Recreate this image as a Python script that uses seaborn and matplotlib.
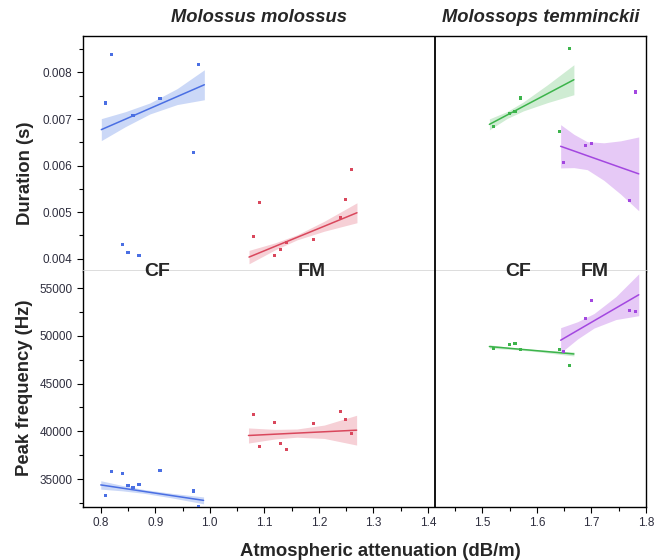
import matplotlib
matplotlib.use('Agg')
import matplotlib.pyplot as plt
import seaborn as sns
import pandas as pd
from matplotlib.ticker import MultipleLocator, FormatStrFormatter

# attenuation (x) for each group, shared by both panels
mm_cf_x = [0.8092, 0.8196, 0.8397, 0.8500, 0.8592, 0.8701, 0.9086, 0.9703, 0.9800]
mm_fm_x = [1.0802, 1.0907, 1.1192, 1.1291, 1.1401, 1.1907, 1.2396, 1.2493, 1.2603]
mt_cf_x = [1.5210, 1.5497, 1.5600, 1.5705, 1.6412, 1.6600]
mt_fm_x = [1.6493, 1.6900, 1.7006, 1.7700, 1.7804]

# duration (s)
mm_cf_dur = [0.007344, 0.008394, 0.004300, 0.004129, 0.007072, 0.004077, 0.007436, 0.006279, 0.008180]
mm_fm_dur = [0.004485, 0.005200, 0.004077, 0.004200, 0.004343, 0.004414, 0.004892, 0.005271, 0.005921]
mt_cf_dur = [0.006830, 0.007115, 0.007164, 0.007451, 0.006735, 0.008508]
mt_fm_dur = [0.006058, 0.006422, 0.006465, 0.005250, 0.007580]

# peak frequency (Hz)
mm_cf_pf = [33288, 35746, 35536, 34339, 34066, 34444, 35883, 33750, 32101]
mm_fm_pf = [41733, 38435, 40925, 38687, 38088, 40820, 42080, 41271, 39738]
mt_cf_pf = [48666, 49118, 49223, 48519, 48519, 46880]
mt_fm_pf = [48382, 51817, 53666, 52616, 52511]

# fitted lines and confidence bands
dur_fits = {
    'mm_cf': dict(x=[0.801, 0.845, 0.890, 0.940, 0.990],
                  fit=[0.006772, 0.006996, 0.007226, 0.007481, 0.007736],
                  lo=[0.006536, 0.006835, 0.007108, 0.007310, 0.007414],
                  hi=[0.007008, 0.007157, 0.007344, 0.007652, 0.008058]),
    'mm_fm': dict(x=[1.072, 1.120, 1.160, 1.210, 1.270],
                  fit=[0.004034, 0.004265, 0.004457, 0.004697, 0.004986],
                  lo=[0.003890, 0.004190, 0.004403, 0.004590, 0.004772],
                  hi=[0.004178, 0.004340, 0.004511, 0.004804, 0.005200]),
    'mt_cf': dict(x=[1.513, 1.545, 1.575, 1.620, 1.668],
                  fit=[0.006885, 0.007083, 0.007269, 0.007547, 0.007844],
                  lo=[0.006767, 0.007008, 0.007173, 0.007354, 0.007522],
                  hi=[0.007003, 0.007158, 0.007365, 0.007740, 0.008166]),
    'mt_fm': dict(x=[1.6437, 1.668, 1.6925, 1.723, 1.7537, 1.787],
                  fit=[0.006414, 0.006314, 0.006212, 0.006086, 0.005959, 0.005822],
                  lo=[0.005949, 0.005956, 0.005912, 0.005683, 0.005387, 0.005029],
                  hi=[0.006879, 0.006672, 0.006512, 0.006489, 0.006531, 0.006615]),
}
pf_fits = {
    'mm_cf': dict(x=[0.800, 0.840, 0.880, 0.930, 0.9886],
                  fit=[34381, 34038, 33694, 33266, 32763],
                  lo=[33941, 33758, 33494, 33026, 32403],
                  hi=[34821, 34318, 33894, 33506, 33123]),
    'mm_fm': dict(x=[1.071, 1.120, 1.160, 1.210, 1.2694],
                  fit=[39559, 39697, 39809, 39949, 40116],
                  lo=[38769, 39197, 39379, 39249, 38556],
                  hi=[40349, 40197, 40239, 40649, 41676]),
    'mt_cf': dict(x=[1.513, 1.560, 1.600, 1.668],
                  fit=[48876, 48640, 48440, 48099],
                  lo=[48696, 48550, 48340, 47889],
                  hi=[49056, 48730, 48540, 48309]),
    'mt_fm': dict(x=[1.6437, 1.675, 1.705, 1.745, 1.787],
                  fit=[49538, 50577, 51573, 52901, 54296],
                  lo=[48225, 49677, 50813, 51701, 52106],
                  hi=[50851, 51477, 52333, 54101, 56486]),
}

line_colors = {'mm_cf': '#4a6fe3', 'mm_fm': '#d9475c', 'mt_cf': '#3cb44b', 'mt_fm': '#a347e0'}
band_colors = {'mm_cf': '#cbd8f7', 'mm_fm': '#f6d0d6', 'mt_cf': '#cfecd3', 'mt_fm': '#e6c9f6'}

groups = ['mm_cf', 'mm_fm', 'mt_cf', 'mt_fm']
xs = [mm_cf_x, mm_fm_x, mt_cf_x, mt_fm_x]
durs = [mm_cf_dur, mm_fm_dur, mt_cf_dur, mt_fm_dur]
pfs = [mm_cf_pf, mm_fm_pf, mt_cf_pf, mt_fm_pf]

rows = []
for g, x, d, p in zip(groups, xs, durs, pfs):
    for xi, di, pi in zip(x, d, p):
        rows.append({'group': g, 'att': xi, 'dur': di, 'pf': pi})
df = pd.DataFrame(rows)

sns.set_style('ticks')
plt.rcParams['font.family'] = ['Liberation Sans', 'DejaVu Sans']

fig, (ax1, ax2) = plt.subplots(2, 1, sharex=True, figsize=(6.57, 5.6), dpi=100)
fig.subplots_adjust(left=0.126, right=0.983, top=0.936, bottom=0.095, hspace=0)

for ax, fits, ycol in [(ax1, dur_fits, 'dur'), (ax2, pf_fits, 'pf')]:
    for g in groups:
        f = fits[g]
        ax.fill_between(f['x'], f['lo'], f['hi'], color=band_colors[g], lw=0, zorder=1)
        sns.lineplot(x=f['x'], y=f['fit'], color=line_colors[g], lw=1.1, ax=ax, zorder=2)
    sns.scatterplot(data=df, x='att', y=ycol, hue='group', palette=line_colors,
                    marker='s', s=5, linewidth=0, legend=False, ax=ax, zorder=3)
    ax.axvline(1.413, color='black', lw=1.3, zorder=4)
    ax.set_xlabel('')
    ax.set_ylabel('')
    for s in ['left', 'right', 'top', 'bottom']:
        ax.spines[s].set_color('black')
        ax.spines[s].set_linewidth(1.0)
    ax.tick_params(axis='both', which='both', direction='out', colors='black',
                   labelcolor='#2e2e3e', labelsize=8.5, length=4, width=0.8)
    ax.tick_params(which='minor', length=3)

ax1.set_xlim(0.767, 1.8)
ax1.set_ylim(0.003728, 0.008787)
ax1.yaxis.set_major_locator(MultipleLocator(0.001))
ax1.yaxis.set_minor_locator(MultipleLocator(0.0005))
ax1.yaxis.set_major_formatter(FormatStrFormatter('%.3f'))
ax1.spines['bottom'].set_color('#d9d9d9')
ax1.spines['bottom'].set_linewidth(2)
ax1.tick_params(axis='x', which='both', bottom=False, labelbottom=False)

ax2.set_ylim(32090, 56754)
ax2.yaxis.set_major_locator(MultipleLocator(5000))
ax2.yaxis.set_minor_locator(MultipleLocator(2500))
ax2.yaxis.set_major_formatter(FormatStrFormatter('%d'))
ax2.spines['top'].set_visible(False)
ax2.xaxis.set_major_locator(MultipleLocator(0.1))
ax2.xaxis.set_minor_locator(MultipleLocator(0.05))
ax2.xaxis.set_major_formatter(FormatStrFormatter('%.1f'))

# species titles
ax1.text((0.767 + 1.413) / 2, 1.076, 'Molossus molossus', transform=ax1.get_xaxis_transform(),
         ha='center', va='center', fontsize=13.2, fontweight='bold', style='italic')
ax1.text((1.413 + 1.8) / 2, 1.076, 'Molossops temminckii', transform=ax1.get_xaxis_transform(),
         ha='center', va='center', fontsize=13.2, fontweight='bold', style='italic')

# call component labels on the panel boundary
call_labels = ['CF', 'FM', 'CF', 'FM']
call_label_x = [0.9037, 1.1875, 1.566, 1.707]
for lab, lx in zip(call_labels, call_label_x):
    ax2.text(lx, 1.0, lab, transform=ax2.get_xaxis_transform(), ha='center', va='center',
             fontsize=14, fontweight='bold', zorder=10)

fig.text(380 / 657, 0.015, 'Atmospheric attenuation (dB/m)', ha='center', va='center',
         fontsize=13.3, fontweight='bold')
fig.text(25 / 657, 1 - 173 / 560, 'Duration (s)', rotation=90, ha='center', va='center',
         fontsize=13.3, fontweight='bold')
fig.text(25 / 657, 1 - 388 / 560, 'Peak frequency (Hz)', rotation=90, ha='center', va='center',
         fontsize=13.3, fontweight='bold')

fig.savefig('out.png', dpi=100)
